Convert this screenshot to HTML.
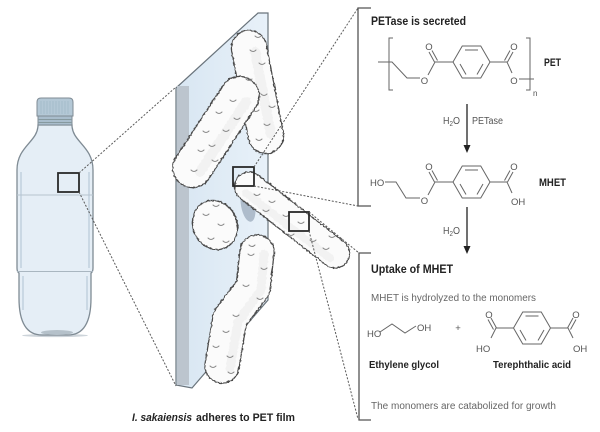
<!DOCTYPE html>
<html><head><meta charset="utf-8"><style>
html,body{margin:0;padding:0;background:#fff;}
svg{display:block;}
</style></head><body>
<svg width="600" height="432" viewBox="0 0 600 432" xmlns="http://www.w3.org/2000/svg" font-family="Liberation Sans, sans-serif">
<defs>
<linearGradient id="pg" x1="0" y1="0" x2="1" y2="0">
<stop offset="0" stop-color="#d8e6f2"/><stop offset="1" stop-color="#e8f1f9"/>
</linearGradient>
<filter id="fz" x="-15%" y="-15%" width="130%" height="130%">
<feTurbulence type="fractalNoise" baseFrequency="0.4" numOctaves="1" seed="4"/>
<feDisplacementMap in="SourceGraphic" scale="3" xChannelSelector="R" yChannelSelector="G"/>
</filter>
</defs>
<rect width="600" height="432" fill="#fff"/>

<!-- Bottle -->
<ellipse cx="55" cy="335.5" rx="33" ry="1.6" fill="#cdd4da"/>
<path d="M38,125 C38,142 17,146 17,170 L17,268 Q17,272 19,273 L19,298 C19,326 29,335 42,335 L68,335 C81,335 91,326 91,298 L91,273 Q93,272 93,268 L93,170 C93,146 72,142 72,125 Z" fill="#e5eef6" stroke="#7f8b94" stroke-width="1.3"/>
<path d="M21,172 L21,268 M89,172 L89,268 M23,276 L23,310 M87,276 L87,310" stroke="#cad8e4" stroke-width="2" fill="none"/>
<path d="M17,195 L93,195" stroke="#b6c4cf" stroke-width="1"/>
<path d="M17,271.5 L93,271.5" stroke="#a9b6c0" stroke-width="1"/>
<ellipse cx="57" cy="332.5" rx="16" ry="2.5" fill="#b5c1ca"/>
<path d="M37,116 L37,102 Q37,98 41,98 L69,98 Q73,98 73,102 L73,116 Z" fill="#b4c8d6" stroke="#7f8b94" stroke-width="1"/>
<path d="M41,101 V114 M44,101 V114 M47,101 V114 M50,101 V114 M53,101 V114 M56,101 V114 M59,101 V114 M62,101 V114 M65,101 V114 M68,101 V114" stroke="#a2b8c8" stroke-width="0.8"/>
<rect x="38" y="116" width="34" height="9" fill="#a9bdcc" stroke="#7f8b94" stroke-width="1"/>
<path d="M38,119.5 H72 M38,122.5 H72" stroke="#86999f" stroke-width="0.9"/>
<rect x="58" y="173" width="21" height="19" fill="none" stroke="#2a2a2a" stroke-width="1.8"/>

<!-- Panel -->
<polygon points="176,88 258,13 268,13 268,300 192,388 176,385" fill="url(#pg)" stroke="#6a747c" stroke-width="1.2"/>
<rect x="177" y="86" width="12" height="299" fill="#bcc5ce"/>
<ellipse cx="248" cy="205" rx="7" ry="17" fill="#aebccb" transform="rotate(-10 248 205)"/>
<ellipse cx="262" cy="140" rx="5" ry="16" fill="#c2cedb"/>
<ellipse cx="218" cy="219" rx="14" ry="4" fill="#c3d0dc"/>

<!-- Bacteria -->
<g filter="url(#fz)" fill="none" stroke-linecap="round" stroke-linejoin="round">
  <line x1="249" y1="48" x2="266" y2="136" stroke="#4a4a4a" stroke-width="36.5"/>
  <line x1="249" y1="48" x2="266" y2="136" stroke="#fbfbfb" stroke-width="34"/>
  <line x1="255" y1="52" x2="271" y2="134" stroke="#f2f2f2" stroke-width="10"/>
  <line x1="239.6" y1="96" x2="192.4" y2="168" stroke="#4a4a4a" stroke-width="40.5"/>
  <line x1="239.6" y1="96" x2="192.4" y2="168" stroke="#fbfbfb" stroke-width="38"/>
  <line x1="246" y1="102" x2="200" y2="172" stroke="#f2f2f2" stroke-width="10"/>
  <ellipse cx="215" cy="225" rx="22" ry="25" transform="rotate(-25 215 225)" fill="#fbfbfb" stroke="#4a4a4a" stroke-width="1.3"/>
  <line x1="249" y1="186.6" x2="335" y2="253.4" stroke="#4a4a4a" stroke-width="30.5"/>
  <line x1="249" y1="186.6" x2="335" y2="253.4" stroke="#fbfbfb" stroke-width="28"/>
  <line x1="246" y1="193" x2="330" y2="258" stroke="#f2f2f2" stroke-width="8"/>
  <polyline points="257,252 253,288 230,318 222,366" stroke="#4a4a4a" stroke-width="35.5"/>
  <polyline points="257,252 253,288 230,318 222,366" stroke="#fbfbfb" stroke-width="33"/>
  <polyline points="264,254 261,290 238,322 230,368" stroke="#f2f2f2" stroke-width="9"/>
</g>
<g fill="none" stroke="#888" stroke-width="1" stroke-linecap="round">
  <path d="M250,50 q3,3 6,0 M259,63 q3,3 6,0 M246,79 q3,3 6,0 M261,94 q3,3 6,0 M253,110 q3,3 6,0 M264,124 q3,3 6,0 M256,139 q3,3 6,0 M269,106 q3,3 6,0 M255,36 q3,3 6,0"/>
  <path d="M230,100 q3,3 6,0 M216,112 q3,3 6,0 M203,131 q3,3 6,0 M223,130 q3,3 6,0 M198,150 q3,3 6,0 M212,160 q3,3 6,0 M191,170 q3,3 6,0 M234,118 q3,3 6,0 M209,145 q3,3 6,0"/>
  <path d="M203,214 q3,3 6,0 M218,224 q3,3 6,0 M208,238 q3,3 6,0 M223,241 q3,3 6,0 M213,205 q3,3 6,0"/>
  <path d="M254,194 q3,3 6,0 M269,201 q3,3 6,0 M283,215 q3,3 6,0 M298,222 q3,3 6,0 M310,240 q3,3 6,0 M323,248 q3,3 6,0 M288,234 q3,3 6,0 M329,236 q3,3 6,0 M263,210 q3,3 6,0"/>
  <path d="M248,254 q3,3 6,0 M261,268 q3,3 6,0 M243,285 q3,3 6,0 M257,298 q3,3 6,0 M233,315 q3,3 6,0 M223,331 q3,3 6,0 M213,346 q3,3 6,0 M227,356 q3,3 6,0 M210,366 q3,3 6,0 M228,372 q3,3 6,0 M249,245 q3,3 6,0"/>
</g>

<!-- squares on bacteria -->
<rect x="233" y="167" width="21" height="19" fill="none" stroke="#2a2a2a" stroke-width="1.8"/>
<rect x="289" y="212" width="20" height="19" fill="none" stroke="#2a2a2a" stroke-width="1.8"/>

<!-- dashed connectors -->
<g stroke="#5a5a5a" stroke-width="1" stroke-dasharray="2 1.6" fill="none">
  <line x1="79" y1="173" x2="176" y2="87"/>
  <line x1="79" y1="192" x2="176" y2="386"/>
  <line x1="254" y1="167" x2="358" y2="8"/>
  <line x1="254" y1="186" x2="358" y2="206"/>
  <line x1="309" y1="212" x2="359" y2="253"/>
  <line x1="309" y1="231" x2="358" y2="419"/>
</g>

<!-- brackets -->
<path d="M371,8 H358 V206 H371" fill="none" stroke="#555" stroke-width="1.3"/>
<path d="M371,253 H359 V420 H371" fill="none" stroke="#555" stroke-width="1.3"/>

<!-- Text -->
<text x="371" y="25" font-size="11.5" font-weight="bold" fill="#222" textLength="95" lengthAdjust="spacingAndGlyphs">PETase is secreted</text>

<!-- PET structure -->
<g stroke="#666" stroke-width="1" fill="none">
  <path d="M393,38 H389 V90 H393 M526,38 H530 V90 H526"/>
  <path d="M378,62 H392 L407,78 H420"/>
  <path d="M428,75 L435,62 H453"/>
  <path d="M434.5,62 L429,52 M437.5,60.5 L432,50.5"/>
  <path d="M453,62 L462.25,46 H480.75 L490,62 L480.75,78 H462.25 Z"/>
  <path d="M465,50 H478 M483,64 L477,74.5 M460,64 L466,74.5"/>
  <path d="M490,62 H507 L512,73"/>
  <path d="M507.5,62 L513,52 M504.5,60.5 L510,50.5"/>
  <path d="M519,79 H534"/>
</g>
<g font-size="9.5" fill="#555" text-anchor="middle">
  <text x="424.5" y="84">O</text>
  <text x="429" y="50">O</text>
  <text x="514" y="50">O</text>
  <text x="514" y="84">O</text>
</g>
<text x="533" y="96" font-size="8" fill="#555">n</text>
<text x="544" y="66" font-size="11" font-weight="bold" fill="#222" textLength="17" lengthAdjust="spacingAndGlyphs">PET</text>

<!-- arrow 1 -->
<line x1="467" y1="104" x2="467" y2="147" stroke="#222" stroke-width="1.3"/>
<polygon points="463.5,145 470.5,145 467,153" fill="#222"/>
<text x="443" y="124" font-size="10" fill="#555" textLength="17" lengthAdjust="spacingAndGlyphs">H<tspan font-size="7" dy="2">2</tspan><tspan dy="-2">O</tspan></text>
<text x="472" y="124" font-size="10" fill="#555" textLength="31" lengthAdjust="spacingAndGlyphs">PETase</text>

<!-- MHET structure -->
<g stroke="#666" stroke-width="1" fill="none">
  <path d="M385,182 H396 L406,198 H420"/>
  <path d="M428,195 L435,182 H453"/>
  <path d="M434.5,182 L429,172 M437.5,180.5 L432,170.5"/>
  <path d="M453,182 L462.25,166 H480.75 L490,182 L480.75,198 H462.25 Z"/>
  <path d="M465,170 H478 M483,184 L477,194.5 M460,184 L466,194.5"/>
  <path d="M490,182 H507 L512,193"/>
  <path d="M507.5,182 L513,172 M504.5,180.5 L510,170.5"/>
</g>
<g font-size="9.5" fill="#555">
  <text x="370" y="186">HO</text>
  <text x="424.5" y="204" text-anchor="middle">O</text>
  <text x="429" y="170" text-anchor="middle">O</text>
  <text x="514" y="170" text-anchor="middle">O</text>
  <text x="511" y="205">OH</text>
</g>
<text x="539" y="186" font-size="11" font-weight="bold" fill="#222" textLength="27" lengthAdjust="spacingAndGlyphs">MHET</text>

<!-- arrow 2 -->
<line x1="467" y1="207" x2="467" y2="248" stroke="#222" stroke-width="1.3"/>
<polygon points="463.5,246 470.5,246 467,254" fill="#222"/>
<text x="443" y="234" font-size="10" fill="#555" textLength="17" lengthAdjust="spacingAndGlyphs">H<tspan font-size="7" dy="2">2</tspan><tspan dy="-2">O</tspan></text>

<text x="371" y="273" font-size="11.5" font-weight="bold" fill="#222" textLength="82" lengthAdjust="spacingAndGlyphs">Uptake of MHET</text>
<text x="371" y="301" font-size="10" fill="#666" textLength="165" lengthAdjust="spacingAndGlyphs">MHET is hydrolyzed to the monomers</text>

<!-- Ethylene glycol -->
<g stroke="#666" stroke-width="1" fill="none">
  <path d="M380,332 L392,324 L405,333 L416,326"/>
</g>
<g font-size="9.5" fill="#555">
  <text x="367" y="337">HO</text>
  <text x="417" y="331">OH</text>
  <text x="458" y="331" text-anchor="middle">+</text>
</g>

<!-- Terephthalic acid -->
<g stroke="#666" stroke-width="1" fill="none">
  <path d="M513.5,328 L522.75,312 H541.25 L550.5,328 L541.25,344 H522.75 Z"/>
  <path d="M525.5,316 H538.5 M544,330 L538,340.5 M520,330 L526,340.5"/>
  <path d="M513.5,328 H496 L491,338"/>
  <path d="M496.5,328 L491,318 M493.5,329.5 L488,319.5"/>
  <path d="M550.5,328 H568 L573,338"/>
  <path d="M567.5,328 L573,318 M570.5,329.5 L576,319.5"/>
</g>
<g font-size="9.5" fill="#555">
  <text x="489" y="318" text-anchor="middle">O</text>
  <text x="576" y="318" text-anchor="middle">O</text>
  <text x="476" y="352">HO</text>
  <text x="573" y="352">OH</text>
</g>

<text x="369" y="368" font-size="10.5" font-weight="bold" fill="#222" textLength="70" lengthAdjust="spacingAndGlyphs">Ethylene glycol</text>
<text x="493" y="368" font-size="10.5" font-weight="bold" fill="#222" textLength="78" lengthAdjust="spacingAndGlyphs">Terephthalic acid</text>
<text x="371" y="409" font-size="10" fill="#666" textLength="185" lengthAdjust="spacingAndGlyphs">The monomers are catabolized for growth</text>

<!-- caption -->
<text x="132" y="421" font-size="11" font-weight="bold" font-style="italic" fill="#222" textLength="60" lengthAdjust="spacingAndGlyphs">I. sakaiensis</text>
<text x="196" y="421" font-size="11" font-weight="bold" fill="#222" textLength="99" lengthAdjust="spacingAndGlyphs">adheres to PET film</text>
</svg>
</body></html>
